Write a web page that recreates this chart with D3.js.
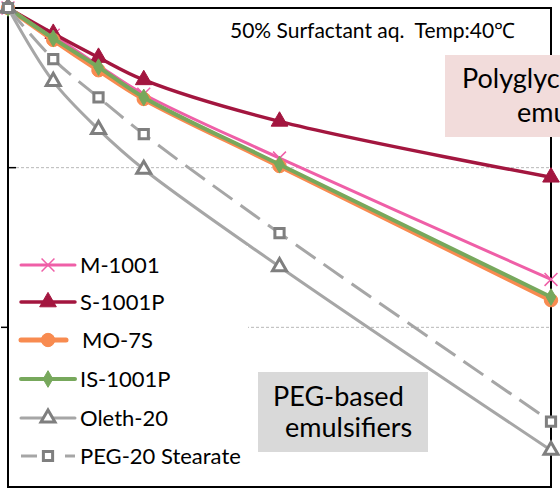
<!DOCTYPE html>
<html>
<head>
<meta charset="utf-8">
<script src="https://cdn.jsdelivr.net/npm/d3@7"></script>
<style>
  body { margin: 0; background: #fff; }
  svg { display: block; font-family: Lato, "Open Sans", sans-serif; }
</style>
</head>
<body>
<svg id="chart" width="560" height="490"></svg>
<script>
// data
const times = [0, 1, 2, 3, 6, 12]
const seriesNames = ['M-1001', 'S-1001P', 'MO-7S', 'IS-1001P', 'Oleth-20', 'PEG-20 Stearate']
const m1001 = [100, 98.3, 96.4, 94.6, 90.6, 83.0]
const s1001p = [100, 98.4, 96.9, 95.5, 92.9, 89.4]
const mo7s = [100, 98.0, 96.1, 94.3, 90.1, 81.7]
const is1001p = [100, 98.1, 96.3, 94.4, 90.2, 81.9]
const oleth20 = [100, 95.4, 92.4, 89.9, 83.8, 72.3]
const peg20 = [100, 96.8, 94.4, 92.1, 85.9, 74.1]
const gridValues = [90, 80]

const values = [m1001, s1001p, mo7s, is1001p, oleth20, peg20]
const styles = [
    {color: '#ef5fa7', width: 3, marker: 'cross', mfill: '#ef5fa7', mstroke: '#ef5fa7', size: 110},
    {color: '#a3163f', width: 3.5, marker: 'triangle', mfill: '#a3163f', mstroke: '#a3163f', size: 120},
    {color: '#f88b50', width: 5, marker: 'circle', mfill: '#f88b50', mstroke: '#f88b50', size: 140},
    {color: '#77a85c', width: 4, marker: 'diamond', mfill: '#77a85c', mstroke: '#77a85c', size: 80},
    {color: '#a6a6a6', width: 3, marker: 'triangle', mfill: '#fff', mstroke: '#7f7f7f', size: 85},
    {color: '#a6a6a6', width: 3, marker: 'square', mfill: '#fff', mstroke: '#7f7f7f', size: 85, dash: '24,10'}
]

const svg = d3.select('#chart')
const plotLeft = 8, plotTop = 8, plotRight = 551, plotBottom = 487

const x = d3.scaleLinear().domain([0, 12]).range([plotLeft, plotRight])
const y = d3.scaleLinear().domain([70, 100]).range([plotBottom, plotTop])

// gridlines
svg.append('g').selectAll('line').data(gridValues).enter().append('line')
    .attr('x1', plotLeft + 8).attr('x2', plotRight)
    .attr('y1', d => y(d)).attr('y2', d => y(d))
    .attr('stroke', '#b8b8b8').attr('stroke-width', 1).attr('stroke-dasharray', '3,2')
svg.append('line').attr('x1', plotLeft).attr('x2', plotLeft + 8).attr('y1', y(90)).attr('y2', y(90))
    .attr('stroke', '#000').attr('stroke-width', 1.5)
svg.append('line').attr('x1', 1).attr('x2', plotLeft).attr('y1', y(80)).attr('y2', y(80))
    .attr('stroke', '#000').attr('stroke-width', 1.5)

// frame
svg.append('rect').attr('x', plotLeft).attr('y', plotTop)
    .attr('width', plotRight - plotLeft).attr('height', plotBottom - plotTop)
    .attr('fill', 'none').attr('stroke', '#000').attr('stroke-width', 2)

function symbolFor(s) {
    let type = {cross: d3.symbolX, triangle: d3.symbolTriangle, circle: d3.symbolCircle,
        diamond: d3.symbolDiamond, square: d3.symbolSquare}[s.marker]
    return d3.symbol().type(type).size(s.size)
}

function markerStroke(s) {
    if (s.marker === 'cross') return 1.5
    return s.mfill === '#fff' ? 3 : 1
}

const line = d3.line()
    .x(d => x(d[0]))
    .y(d => y(d[1]))
    .curve(d3.curveCatmullRom.alpha(0.5))

// series
values.forEach((vals, i) => {
    let s = styles[i]
    let pts = times.map((t, j) => [t, vals[j]])
    let g = svg.append('g')
    g.append('path').datum(pts).attr('d', line)
        .attr('fill', 'none').attr('stroke', s.color).attr('stroke-width', s.width)
        .attr('stroke-dasharray', s.dash || null)
    g.selectAll('path.m').data(pts).enter().append('path').attr('class', 'm')
        .attr('d', symbolFor(s))
        .attr('transform', d => 'translate(' + x(d[0]) + ',' + y(d[1]) + ')')
        .attr('fill', s.marker === 'cross' ? 'none' : s.mfill)
        .attr('stroke', s.mstroke)
        .attr('stroke-width', markerStroke(s))
})

// legend
let lg = svg.append('g')
lg.append('rect').attr('x', 9).attr('y', 246).attr('width', 239).attr('height', 238).attr('fill', '#fff')
const legendY = [265, 302, 340, 379, 418, 456]
seriesNames.forEach((name, i) => {
    let s = styles[i]
    let ly = legendY[i]
    let x2 = i === 2 ? 66 : 75
    if (s.dash) {
        lg.append('line').attr('x1', 21).attr('x2', 37).attr('y1', ly).attr('y2', ly)
            .attr('stroke', s.color).attr('stroke-width', s.width)
        lg.append('line').attr('x1', 65).attr('x2', 75).attr('y1', ly).attr('y2', ly)
            .attr('stroke', s.color).attr('stroke-width', s.width)
    } else {
        lg.append('line').attr('x1', 21).attr('x2', x2).attr('y1', ly).attr('y2', ly)
            .attr('stroke', s.color).attr('stroke-width', s.width).attr('stroke-linecap', 'round')
    }
    lg.append('path').attr('d', symbolFor(s)).attr('transform', 'translate(48,' + ly + ')')
        .attr('fill', s.marker === 'cross' ? 'none' : s.mfill)
        .attr('stroke', s.mstroke)
        .attr('stroke-width', markerStroke(s))
    lg.append('text').attr('x', i === 2 ? 82 : 80).attr('y', ly + 8)
        .attr('font-size', 22).attr('fill', '#000').text(name)
})

// condition note
svg.append('text').attr('x', 230).attr('y', 38).attr('font-size', 21).attr('fill', '#000')
    .style('white-space', 'pre').text('50% Surfactant aq.  Temp:40\u2103')

// annotation boxes (the pink one runs past the right edge, as in the source)
svg.append('rect').attr('x', 445).attr('y', 55).attr('width', 280).attr('height', 82).attr('fill', '#f2dcdb')
svg.append('text').attr('x', 462).attr('y', 88).attr('font-size', 27).attr('fill', '#000').text('Polyglycerol-based')
svg.append('text').attr('x', 517).attr('y', 122).attr('font-size', 27).attr('fill', '#000').text('emulsifiers')

svg.append('rect').attr('x', 258).attr('y', 372).attr('width', 170).attr('height', 80).attr('fill', '#d9d9d9')
svg.append('text').attr('x', 273).attr('y', 406).attr('font-size', 27).attr('fill', '#000').text('PEG-based')
svg.append('text').attr('x', 285).attr('y', 437).attr('font-size', 27).attr('fill', '#000').text('emulsifiers')
</script>
</body>
</html>
